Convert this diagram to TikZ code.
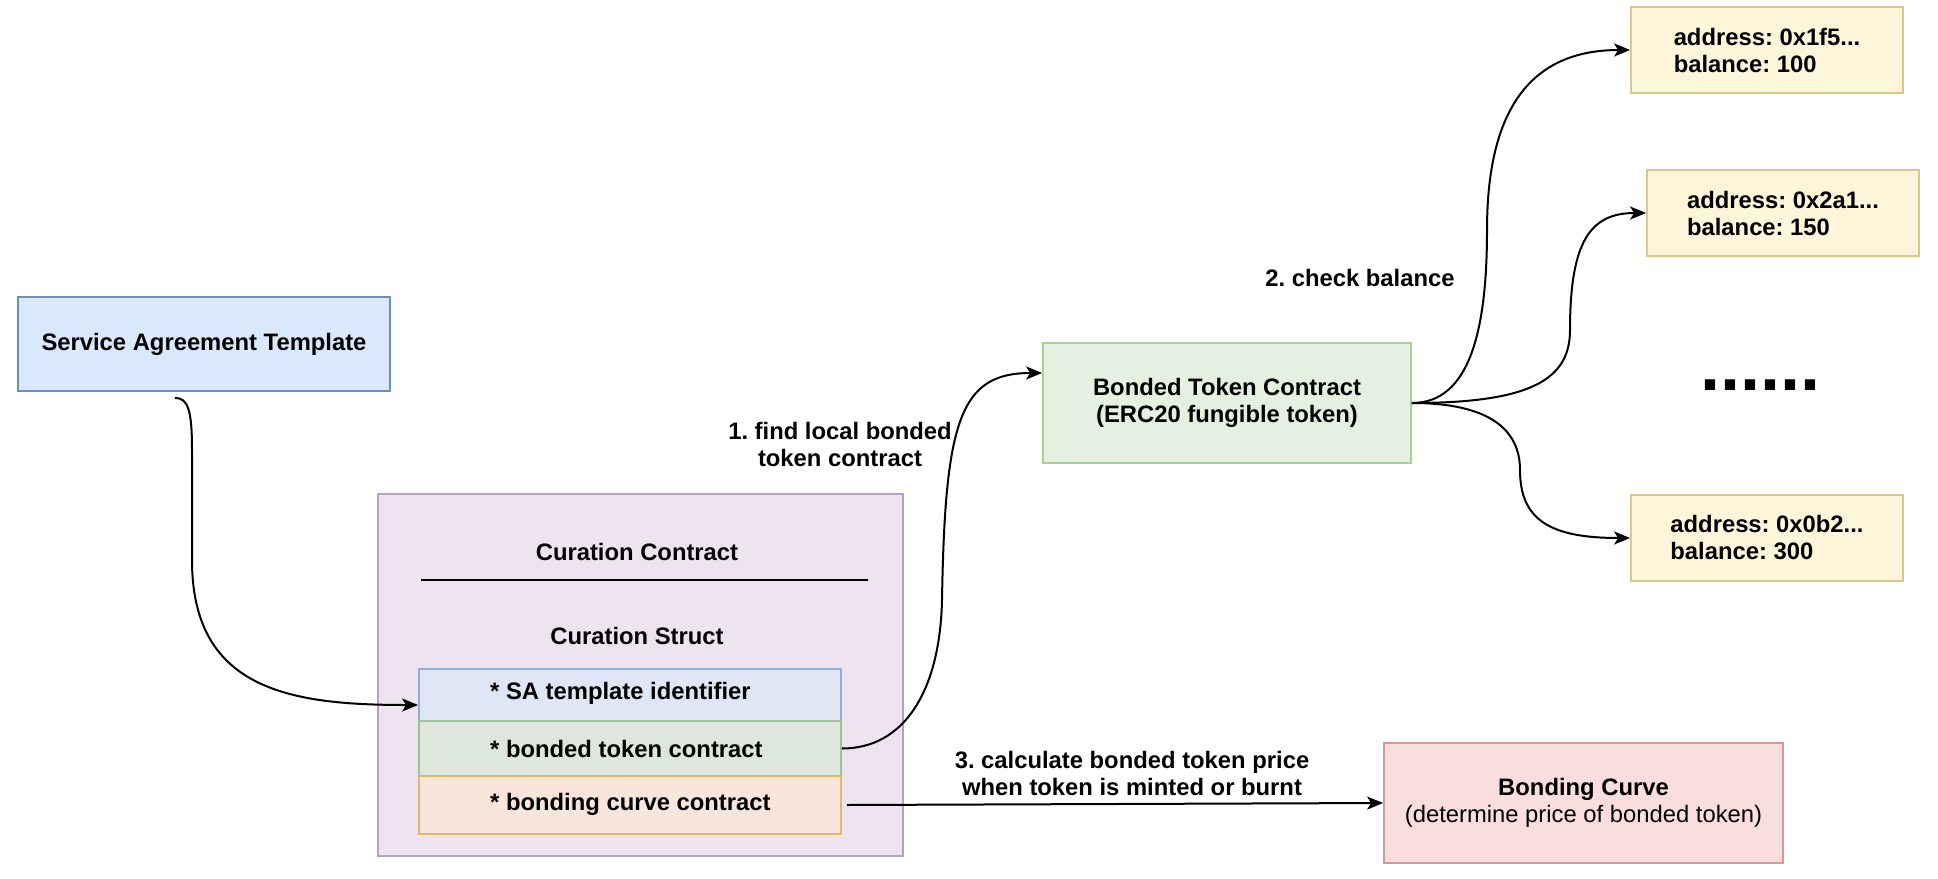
\documentclass[tikz,border=0pt]{standalone}
\usepackage{fontspec}
\setmainfont{Liberation Sans}
\frenchspacing
\usetikzlibrary{arrows.meta}
\definecolor{satfill}{HTML}{DAE8FC}\definecolor{satdraw}{HTML}{6C8EBF}
\definecolor{curfill}{HTML}{EDE4F0}\definecolor{curdraw}{HTML}{B6A0C8}
\definecolor{rafill}{HTML}{DFE6F6}\definecolor{radraw}{HTML}{97AED3}
\definecolor{rbfill}{HTML}{DEE7DE}\definecolor{rbdraw}{HTML}{9DC48B}
\definecolor{rcfill}{HTML}{F8E6DC}\definecolor{rcdraw}{HTML}{E2B66B}
\definecolor{btcfill}{HTML}{E4F0E0}\definecolor{btcdraw}{HTML}{A9CF97}
\definecolor{yfill}{HTML}{FFF5DA}\definecolor{ydraw}{HTML}{DCC68A}
\definecolor{bcfill}{HTML}{FADEDE}\definecolor{bcdraw}{HTML}{D49A98}
\tikzset{
  box/.style={draw, line width=1.8pt, rectangle, inner sep=0pt, align=center,
    font=\fontsize{23.8}{27}\selectfont\bfseries},
  txt/.style={inner sep=0pt, align=center, font=\fontsize{23.8}{27}\selectfont\bfseries},
  conn/.style={line width=2pt, -{Stealth[length=16pt,width=13pt,inset=4pt]}},
  plainline/.style={line width=2pt}
}
\begin{document}
\begin{tikzpicture}[x=1pt,y=-1pt]
\useasboundingbox (0,0) rectangle (1938,878);
% boxes
\node[box, fill=satfill, draw=satdraw, minimum width=372pt, minimum height=94pt] (sat) at (204,344) {Service Agreement Template};
\node[box, fill=curfill, draw=curdraw, minimum width=525pt, minimum height=362pt] (cur) at (640.5,675) {};
\node[txt] (curt) at (637,552) {Curation Contract};
\draw[plainline] (421,580) -- (868,580);
\node[txt] (curs) at (637,636) {Curation Struct};
\node[box, fill=rafill, draw=radraw, minimum width=422pt, minimum height=52pt] (r1) at (630,695) {};
\node[box, fill=rbfill, draw=rbdraw, minimum width=422pt, minimum height=55pt] (r2) at (630,748.5) {};
\node[box, fill=rcfill, draw=rcdraw, minimum width=422pt, minimum height=58pt] (r3) at (630,805) {};
\node[txt, anchor=west] (t1) at (490,693) {* SA template identifier};
\node[txt, anchor=west] (t2) at (490,749) {* bonded token contract};
\node[txt, anchor=west] (t3) at (490,804) {* bonding curve contract};
\node[box, fill=btcfill, draw=btcdraw, minimum width=368pt, minimum height=120pt] (btc) at (1227,403) {Bonded Token Contract\\(ERC20 fungible token)};
\node[box, fill=yfill, draw=ydraw, minimum width=272pt, minimum height=86pt, align=left] (y1) at (1767,50) {address: 0x1f5...\\balance: 100};
\node[box, fill=yfill, draw=ydraw, minimum width=272pt, minimum height=86pt, align=left] (y2) at (1783,213) {address: 0x2a1...\\balance: 150};
\node[box, fill=yfill, draw=ydraw, minimum width=272pt, minimum height=86pt, align=left] (y3) at (1767,538) {address: 0x0b2...\\balance: 300};
\node[box, fill=bcfill, draw=bcdraw, minimum width=399pt, minimum height=120pt] (bc) at (1583.5,803) {Bonding Curve\\{\mdseries (determine price of bonded token)}};
\node[inner sep=0pt, anchor=base, font=\fontsize{72}{72}\selectfont\bfseries] (dots) at (1760,390) {......};
% labels
\node[txt] (l1) at (840,444) {1. find local bonded\\token contract};
\node[txt] (l2) at (1360,278) {2. check balance};
\node[txt] (l3) at (1132,773) {3. calculate bonded token price\\when token is minted or burnt};
% connectors
\draw[conn] ([xshift=-29pt,yshift=-6pt]sat.south) .. controls +(13,0) and +(0,-40) .. (192,450) -- (192,560) .. controls +(0,130) and +(-128,0) .. ([yshift=-10pt]r1.west);
\draw[conn] (r2.east) .. controls +(63,0) and +(-2,90) .. (942,600) .. controls +(3,-180) and +(-82,0) .. ([yshift=30pt]btc.west);
\draw[conn] ([xshift=5pt]r3.east) -- (bc.west);
\draw[conn] (btc.east) .. controls +(58,0) and +(0,100) .. (1487,230) .. controls +(0,-120) and +(-100,0) .. (y1.west);
\draw[conn] (btc.east) .. controls +(118,0) and +(0,50) .. (1570,330) .. controls +(0,-90) and +(-55,0) .. (y2.west);
\draw[conn] (btc.east) .. controls +(78,0) and +(0,-40) .. (1520,470) .. controls +(0,50) and +(-80,0) .. (y3.west);
\end{tikzpicture}
\end{document}
